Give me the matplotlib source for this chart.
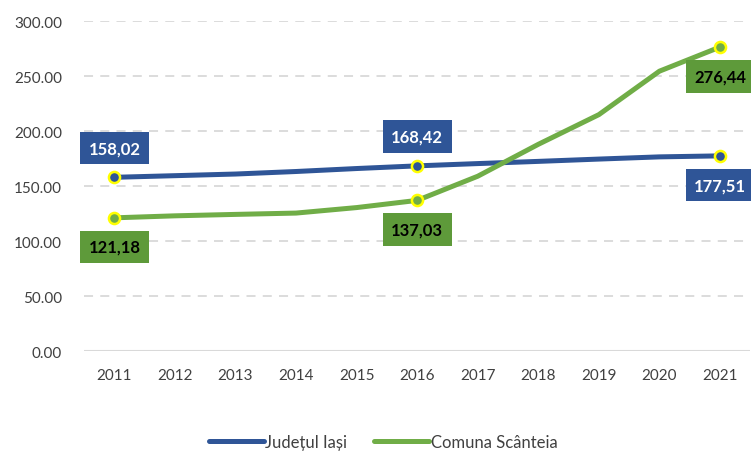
import matplotlib.pyplot as plt
from matplotlib.ticker import FormatStrFormatter

plt.rcParams['font.family'] = ['Lato', 'DejaVu Sans']

# data
years = ['2011', '2012', '2013', '2014', '2015', '2016', '2017', '2018', '2019', '2020', '2021']
judet_iasi = [158.02, 159.5, 161.0, 163.3, 166.0, 168.42, 170.5, 172.5, 174.6, 176.6, 177.51]
comuna_scanteia = [121.18, 123.0, 124.3, 125.5, 130.5, 137.03, 159.0, 188.0, 215.0, 254.5, 276.44]

# which points get a labelled box, and where (up / down)
label_idx = [0, 5, 10]
blue_pos = ['up', 'up', 'down']
green_pos = ['down', 'down', 'down']

blue = '#2F5597'
green = '#70AD47'
green_box = '#5E9A3A'

fig = plt.figure(figsize=(7.51, 4.52), dpi=100)
ax = fig.add_axes([0.112, 0.221, 0.887, 0.730])

x = list(range(len(years)))
ax.plot(x, judet_iasi, color=blue, lw=3.6, label='Județul Iași', solid_capstyle='round', zorder=3)
ax.plot(x, comuna_scanteia, color=green, lw=3.6, label='Comuna Scânteia', solid_capstyle='round', zorder=3)

for series, col, box, txtcol, pos in [(judet_iasi, blue, blue, 'white', blue_pos),
                                      (comuna_scanteia, green, green_box, 'black', green_pos)]:
    for i, p in zip(label_idx, pos):
        ax.plot(x[i], series[i], 'o', ms=8, mfc=col, mec='#FFFF00', mew=1.8, zorder=4)
        dy = 21 if p == 'up' else -21
        ax.annotate(f'{series[i]:.2f}'.replace('.', ','), (x[i], series[i]),
                    xytext=(0, dy), textcoords='offset points', ha='center', va='center',
                    fontsize=12, fontweight='bold', color=txtcol,
                    bbox=dict(boxstyle='square,pad=0.5', fc=box, ec='none'), zorder=5)

ax.set_xlim(-0.5, len(years) - 0.5)
ax.set_ylim(0, 300)
ax.set_yticks([0, 50, 100, 150, 200, 250, 300])
ax.yaxis.set_major_formatter(FormatStrFormatter('%.2f'))
ax.set_xticks(x)
ax.set_xticklabels(years)
ax.tick_params(length=0, labelsize=11, labelcolor='#404040')
ax.tick_params(axis='x', pad=12)
ax.tick_params(axis='y', pad=16)

for s in ax.spines.values():
    s.set_visible(False)
ax.grid(axis='y', color='#D9D9D9', ls=(0, (5, 4)), lw=1.3, zorder=0)
ax.axhline(0, color='#D9D9D9', lw=1.5, zorder=1)

fig.legend(loc='lower center', ncol=2, frameon=False, bbox_to_anchor=(0.51, -0.03),
           fontsize=12, handlelength=3.3, columnspacing=1.6, handletextpad=0.1)
for t in fig.legends[0].get_texts():
    t.set_color('#404040')

fig.savefig('out.png', dpi=100)
